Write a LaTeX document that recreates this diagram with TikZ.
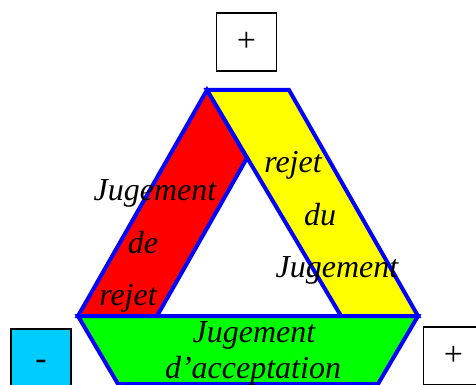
\documentclass[tikz,border=0pt]{standalone}
\usepackage{fontspec}
\setmainfont{Liberation Serif}
\usepackage{tikz}
\usetikzlibrary{positioning}
\definecolor{bandc}{HTML}{0000FF}
\definecolor{rejc}{HTML}{FF0000}
\definecolor{rdjc}{HTML}{FFFF00}
\definecolor{accc}{HTML}{00FF00}
\definecolor{moinsc}{HTML}{00CCFF}
\newcommand{\motcol}[2]{%
  \foreach \w/\x/\y [count=\i] in {#2}
     \node[mot] (#1\i) at (\x,\y) {\w};}

\begin{document}
\begin{tikzpicture}[x=1pt, y=-1pt,
    band/.style={draw=bandc, line width=4pt, line join=miter},
    mot/.style={anchor=base, inner sep=0pt, font=\fontsize{32}{38}\selectfont\itshape},
    signe/.style={draw=black, line width=1.8pt, minimum width=60pt, minimum height=58pt,
                  inner sep=0pt, font=\fontsize{34}{38}\selectfont}]
  \useasboundingbox (0,0) rectangle (476,385);
  \clip (0,0) rectangle (476,385);
  \fill[white] (0,0) rectangle (476,385);
  \draw[band, fill=rejc] (207,90) -- (78,316) -- (157,316) -- (247,158) -- cycle;
  \draw[band, fill=rdjc] (207,90) -- (289,90) -- (418,316) -- (341,316) -- cycle;
  \draw[band, fill=accc] (78,316) -- (418,316) -- (378,384) -- (118,384) -- cycle;
  \motcol{g}{Jugement/155/200, de/143/253, rejet/128/305}
  \motcol{d}{rejet/293/172, du/320/225, Jugement/337/277}
  \motcol{b}{Jugement/254/342, d’acceptation/253/378}
  \node[signe] (haut) at (246.5,42) {+};
  \node[signe, fill=moinsc] (gauche) at (41,358) {\raisebox{-11pt}[0pt][0pt]{-}};
  \node[signe] (droite) at (453.5,356) {+};
\end{tikzpicture}
\end{document}
